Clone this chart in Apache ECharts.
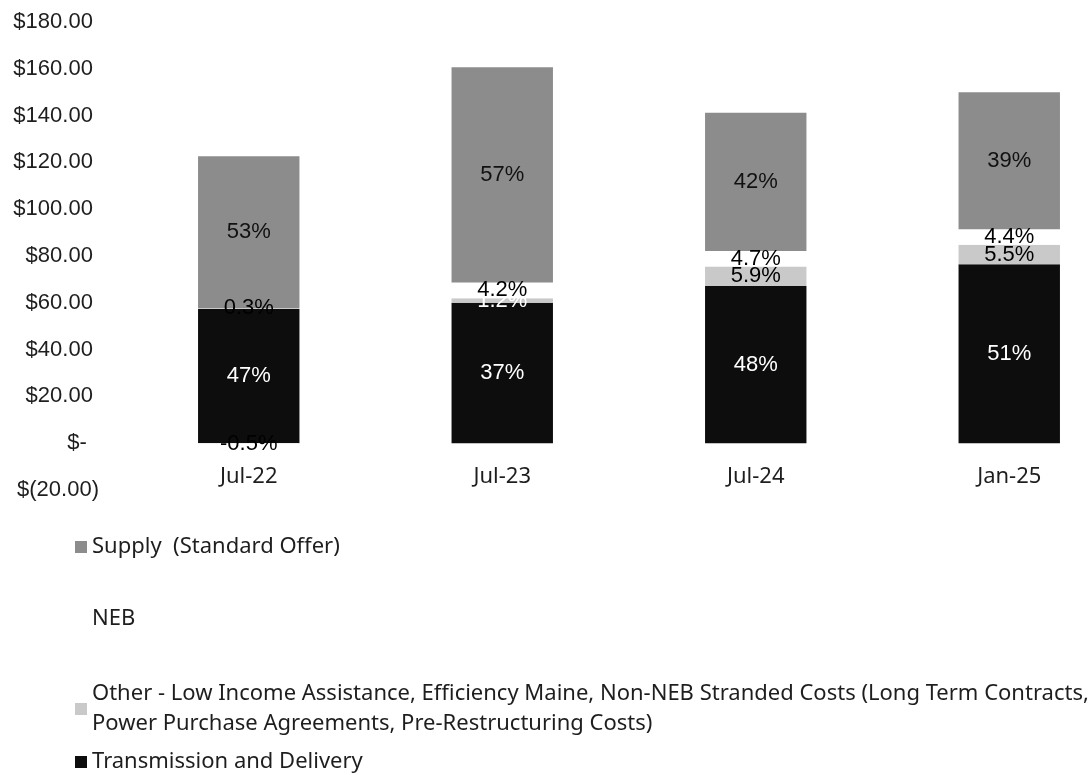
<!DOCTYPE html>
<html><head><meta charset="utf-8">
<script src="https://cdn.jsdelivr.net/npm/echarts@6/dist/echarts.min.js"></script>
<style>html,body{margin:0;padding:0;background:#fff}#c{width:1092px;height:775px}</style>
</head><body><div id="c"></div>
<script>
const categories = ['Jul-22', 'Jul-23', 'Jul-24', 'Jan-25'];
const transmission = [57.4, 60.0, 67.2, 76.5];
const other = [0.4, 1.9, 8.3, 8.3];
const neb = [-0.6, 6.8, 6.6, 6.6];
const supply = [64.8, 92.0, 59.1, 58.6];
const transmissionPct = ['47%', '37%', '48%', '51%'];
const otherPct = ['0.3%', '1.2%', '5.9%', '5.5%'];
const nebPct = ['-0.5%', '4.2%', '4.7%', '4.4%'];
const supplyPct = ['53%', '57%', '42%', '39%'];
const yTicks = { min: -20, max: 180, interval: 20 };

const names = {
  supply: 'Supply  (Standard Offer)',
  neb: 'NEB',
  other: 'Other - Low Income Assistance, Efficiency Maine, Non-NEB Stranded Costs (Long Term Contracts,\nPower Purchase Agreements, Pre-Restructuring Costs)',
  td: 'Transmission and Delivery'
};

const lblFont = 'Liberation Sans, Arial, sans-serif';
const txtFont = 'Noto Sans, sans-serif';
const txtColor = '#1e1e1e';
function mk(name, vals, pcts, color, labelColor) {
  return {
    name: name, type: 'bar', stack: 'total', barWidth: '40%',
    itemStyle: { color: color },
    data: vals.map(v => ({ value: v })),
    label: {
      show: true, position: 'inside', fontFamily: lblFont, fontSize: 22,
      color: labelColor,
      formatter: p => pcts[p.dataIndex]
    }
  };
}

const chart = echarts.init(document.getElementById('c'));
const legendCommon = {
  orient: 'vertical', left: 75, icon: 'rect', itemWidth: 12, itemHeight: 12,
  textStyle: { fontFamily: txtFont, fontSize: 22, color: txtColor, lineHeight: 30 },
  selectedMode: false, padding: 0
};
const otherSeries = mk(names.other, other, otherPct, '#c9c9c9', '#000');
otherSeries.data[1].label = { color: '#fff' };
chart.setOption({
  animation: false,
  grid: { left: 122, width: 1014, top: 22, bottom: 285, outerBoundsMode: 'none', containLabel: false },
  legend: [
    Object.assign({ top: 532, data: [names.supply] }, legendCommon),
    Object.assign({ top: 604, data: [names.neb] }, legendCommon),
    Object.assign({ top: 679, data: [names.other] }, legendCommon),
    Object.assign({ top: 747, data: [names.td] }, legendCommon)
  ],
  xAxis: {
    type: 'category', data: categories,
    offset: -47,
    axisLine: { show: false, onZero: false },
    axisTick: { show: false },
    axisLabel: { margin: 23, fontFamily: txtFont, fontSize: 22, color: txtColor }
  },
  yAxis: {
    type: 'value', min: yTicks.min, max: yTicks.max, interval: yTicks.interval,
    splitLine: { show: false }, axisLine: { show: false }, axisTick: { show: false },
    axisLabel: {
      margin: 23, fontFamily: lblFont, fontSize: 22, color: txtColor,
      formatter: v => v < 0 ? '$(' + Math.abs(v).toFixed(2) + ')' : (v === 0 ? '$-  ' : '$' + v.toFixed(2) + ' ')
    }
  },
  series: [
    mk(names.td, transmission, transmissionPct, '#0d0d0d', '#fff'),
    otherSeries,
    mk(names.neb, neb, nebPct, '#ffffff', '#000'),
    mk(names.supply, supply, supplyPct, '#8c8c8c', '#111')
  ]
});
</script></body></html>
